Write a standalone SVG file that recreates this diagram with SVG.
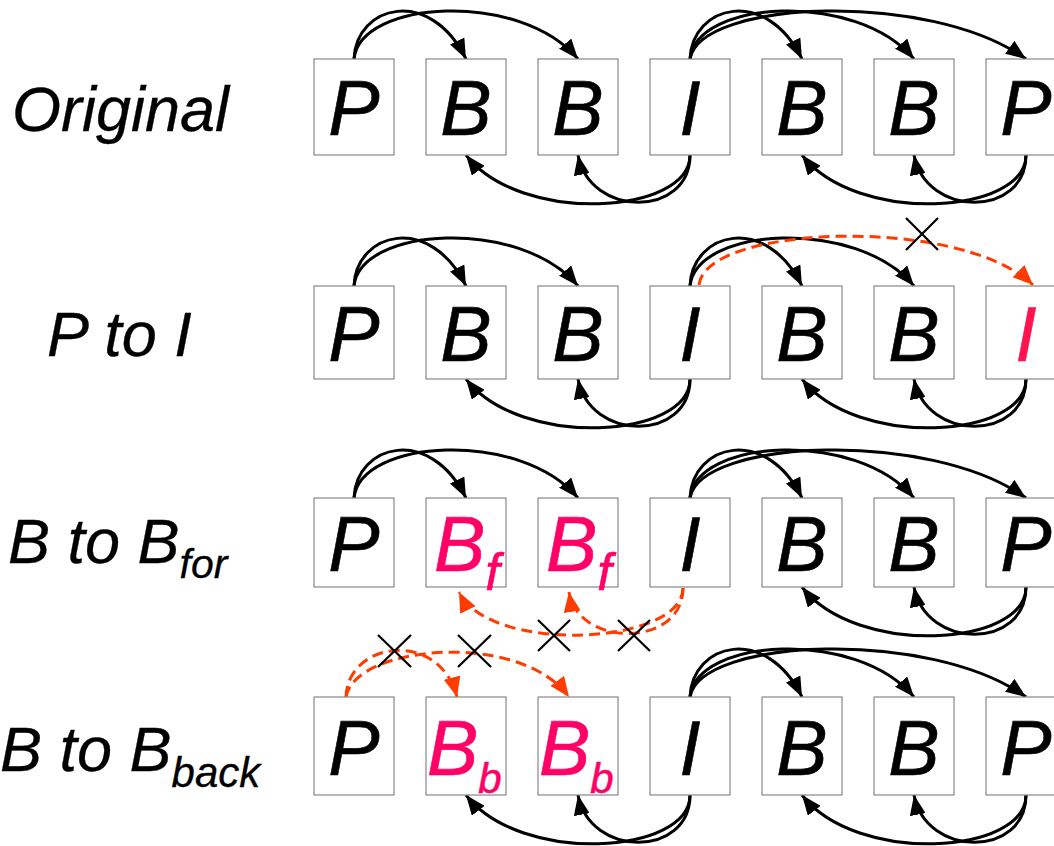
<svg xmlns="http://www.w3.org/2000/svg" xmlns:xlink="http://www.w3.org/1999/xlink" width="1054" height="846" viewBox="0 0 1054 846">
  <style>
    .frame { fill: #ffffff; stroke: #888888; stroke-width: 1.2; }
    .glyph { font-family: "Liberation Sans", Arial, sans-serif; font-style: italic; font-size: 77px; fill: #000000; stroke: #000000; stroke-width: 0.6; }
    .mid { text-anchor: middle; }
    .pink { fill: #ff0066; stroke: #ff0066; }
    .red { fill: #ff1450; stroke: #ff1450; }
    .label { font-family: "Liberation Sans", Arial, sans-serif; font-style: italic; font-size: 63px; fill: #000000; stroke: #000000; stroke-width: 0.3; }
    .ref { fill: none; stroke: #000000; stroke-width: 3; marker-end: url(#arrowBlack); }
    .drop { fill: none; stroke: #ff3c00; stroke-width: 3; stroke-dasharray: 11 6; marker-end: url(#arrowRed); }
    .cross { stroke: #000000; stroke-width: 2.2; }
  </style>
  <defs>
    <marker id="arrowBlack" markerUnits="userSpaceOnUse" markerWidth="21" markerHeight="16" refX="20" refY="8" orient="auto">
      <path d="M0,0 L20,8 L0,16 Z" fill="#000000"/>
    </marker>
    <marker id="arrowRed" markerUnits="userSpaceOnUse" markerWidth="21" markerHeight="17" refX="20" refY="8.5" orient="auto">
      <path d="M0,0 L20,8.5 L0,17 Z" fill="#ff3c00"/>
    </marker>
    <!-- forward references drawn above a row (y = 0 is the frame top) -->
    <path id="topShort" d="M354,0 C356,-54 430,-73 466,0"/>
    <path id="topMid" d="M354,0 C360,-59 520,-69 578,0"/>
    <path id="topLong" d="M690,0 C700,-59 930,-69 1026,0"/>
    <!-- backward references drawn below a row (y = 0 is the frame bottom) -->
    <path id="botLong" d="M690,0 C690,60 520,70 466,0"/>
    <path id="botShort" d="M690,0 C690,63 590,63 578,0"/>
  </defs>

  <!-- row labels -->
  <g id="labels">
    <text class="label" x="12" y="131">Original</text>
    <text class="label" x="47" y="356">P to I</text>
    <text class="label" x="8" y="563">B to B<tspan font-size="41" dy="15">for</tspan></text>
    <text class="label" x="0" y="771">B to B<tspan font-size="42" dy="16">back</tspan></text>
  </g>

  <g id="connectors">
    <!-- row 1 -->
    <g transform="translate(0,59)">
      <use class="ref" xlink:href="#topShort"/>
      <use class="ref" xlink:href="#topMid"/>
      <use class="ref" xlink:href="#topShort" x="336"/>
      <use class="ref" xlink:href="#topMid" x="336"/>
      <use class="ref" xlink:href="#topLong"/>
    </g>
    <g transform="translate(0,155)">
      <use class="ref" xlink:href="#botLong"/>
      <use class="ref" xlink:href="#botShort"/>
      <use class="ref" xlink:href="#botLong" x="336"/>
      <use class="ref" xlink:href="#botShort" x="336"/>
    </g>
    <!-- row 2 -->
    <g transform="translate(0,286)">
      <use class="ref" xlink:href="#topShort"/>
      <use class="ref" xlink:href="#topMid"/>
      <use class="ref" xlink:href="#topShort" x="336"/>
      <use class="ref" xlink:href="#topMid" x="336"/>
    </g>
    <g transform="translate(0,379)">
      <use class="ref" xlink:href="#botLong"/>
      <use class="ref" xlink:href="#botShort"/>
      <use class="ref" xlink:href="#botLong" x="336"/>
      <use class="ref" xlink:href="#botShort" x="336"/>
    </g>
    <path class="drop" d="M699,285 C705,225 960,215 1033,285"/>
    <!-- row 3 -->
    <g transform="translate(0,498)">
      <use class="ref" xlink:href="#topShort"/>
      <use class="ref" xlink:href="#topMid"/>
      <use class="ref" xlink:href="#topShort" x="336"/>
      <use class="ref" xlink:href="#topMid" x="336"/>
      <use class="ref" xlink:href="#topLong"/>
    </g>
    <g transform="translate(0,587)">
      <use class="ref" xlink:href="#botLong" x="336"/>
      <use class="ref" xlink:href="#botShort" x="336"/>
    </g>
    <path class="drop" d="M683,588 C683,645 490,655 459,592"/>
    <path class="drop" d="M683,588 C683,648 578,648 569,592"/>
    <!-- row 4 -->
    <g transform="translate(0,697)">
      <use class="ref" xlink:href="#topShort" x="336"/>
      <use class="ref" xlink:href="#topMid" x="336"/>
      <use class="ref" xlink:href="#topLong"/>
    </g>
    <g transform="translate(0,795)">
      <use class="ref" xlink:href="#botLong"/>
      <use class="ref" xlink:href="#botShort"/>
      <use class="ref" xlink:href="#botLong" x="336"/>
      <use class="ref" xlink:href="#botShort" x="336"/>
    </g>
    <path class="drop" d="M346,697 C348,640 440,630 457,697"/>
    <path class="drop" d="M346,697 C355,645 520,630 569,697"/>
  </g>

  <!-- cut marks on removed references -->
  <g id="cuts">
    <path class="cross" d="M906,218 L938,250 M938,218 L906,250"/>
    <path class="cross" d="M538,620 L570,651 M570,620 L538,651"/>
    <path class="cross" d="M618,620 L650,651 M650,620 L618,651"/>
    <path class="cross" d="M378,635 L411,667 M411,635 L378,667"/>
    <path class="cross" d="M458,635 L491,667 M491,635 L458,667"/>
  </g>

  <!-- row 1: Original -->
  <g id="r1-p1"><rect class="frame" x="314" y="59" width="80" height="96"/><text class="glyph mid" x="354" y="135">P</text></g>
  <g id="r1-b1"><rect class="frame" x="426" y="59" width="80" height="96"/><text class="glyph mid" x="466" y="135">B</text></g>
  <g id="r1-b2"><rect class="frame" x="538" y="59" width="80" height="96"/><text class="glyph mid" x="578" y="135">B</text></g>
  <g id="r1-i"><rect class="frame" x="650" y="59" width="80" height="96"/><text class="glyph mid" x="690" y="135">I</text></g>
  <g id="r1-b3"><rect class="frame" x="762" y="59" width="80" height="96"/><text class="glyph mid" x="802" y="135">B</text></g>
  <g id="r1-b4"><rect class="frame" x="874" y="59" width="80" height="96"/><text class="glyph mid" x="914" y="135">B</text></g>
  <g id="r1-p2"><rect class="frame" x="986" y="59" width="80" height="96"/><text class="glyph mid" x="1026" y="135">P</text></g>

  <!-- row 2: P to I -->
  <g id="r2-p1"><rect class="frame" x="314" y="286" width="80" height="93"/><text class="glyph mid" x="354" y="361">P</text></g>
  <g id="r2-b1"><rect class="frame" x="426" y="286" width="80" height="93"/><text class="glyph mid" x="466" y="361">B</text></g>
  <g id="r2-b2"><rect class="frame" x="538" y="286" width="80" height="93"/><text class="glyph mid" x="578" y="361">B</text></g>
  <g id="r2-i"><rect class="frame" x="650" y="286" width="80" height="93"/><text class="glyph mid" x="690" y="361">I</text></g>
  <g id="r2-b3"><rect class="frame" x="762" y="286" width="80" height="93"/><text class="glyph mid" x="802" y="361">B</text></g>
  <g id="r2-b4"><rect class="frame" x="874" y="286" width="80" height="93"/><text class="glyph mid" x="914" y="361">B</text></g>
  <g id="r2-i2"><rect class="frame" x="986" y="286" width="80" height="93"/><text class="glyph mid red" x="1026" y="361">I</text></g>

  <!-- row 3: B to B forward -->
  <g id="r3-p1"><rect class="frame" x="314" y="498" width="80" height="89"/><text class="glyph mid" x="354" y="571">P</text></g>
  <g id="r3-bf1"><rect class="frame" x="426" y="498" width="80" height="89"/><text class="glyph pink" x="434" y="571">B<tspan font-size="52" dy="19">f</tspan></text></g>
  <g id="r3-bf2"><rect class="frame" x="538" y="498" width="80" height="89"/><text class="glyph pink" x="546" y="571">B<tspan font-size="52" dy="19">f</tspan></text></g>
  <g id="r3-i"><rect class="frame" x="650" y="498" width="80" height="89"/><text class="glyph mid" x="690" y="571">I</text></g>
  <g id="r3-b3"><rect class="frame" x="762" y="498" width="80" height="89"/><text class="glyph mid" x="802" y="571">B</text></g>
  <g id="r3-b4"><rect class="frame" x="874" y="498" width="80" height="89"/><text class="glyph mid" x="914" y="571">B</text></g>
  <g id="r3-p2"><rect class="frame" x="986" y="498" width="80" height="89"/><text class="glyph mid" x="1026" y="571">P</text></g>

  <!-- row 4: B to B backward -->
  <g id="r4-p1"><rect class="frame" x="314" y="697" width="80" height="98"/><text class="glyph mid" x="354" y="775">P</text></g>
  <g id="r4-bb1"><rect class="frame" x="426" y="697" width="80" height="98"/><text class="glyph pink" x="427" y="775">B<tspan font-size="42" dy="18">b</tspan></text></g>
  <g id="r4-bb2"><rect class="frame" x="538" y="697" width="80" height="98"/><text class="glyph pink" x="539" y="775">B<tspan font-size="42" dy="18">b</tspan></text></g>
  <g id="r4-i"><rect class="frame" x="650" y="697" width="80" height="98"/><text class="glyph mid" x="690" y="775">I</text></g>
  <g id="r4-b3"><rect class="frame" x="762" y="697" width="80" height="98"/><text class="glyph mid" x="802" y="775">B</text></g>
  <g id="r4-b4"><rect class="frame" x="874" y="697" width="80" height="98"/><text class="glyph mid" x="914" y="775">B</text></g>
  <g id="r4-p2"><rect class="frame" x="986" y="697" width="80" height="98"/><text class="glyph mid" x="1026" y="775">P</text></g>
</svg>
